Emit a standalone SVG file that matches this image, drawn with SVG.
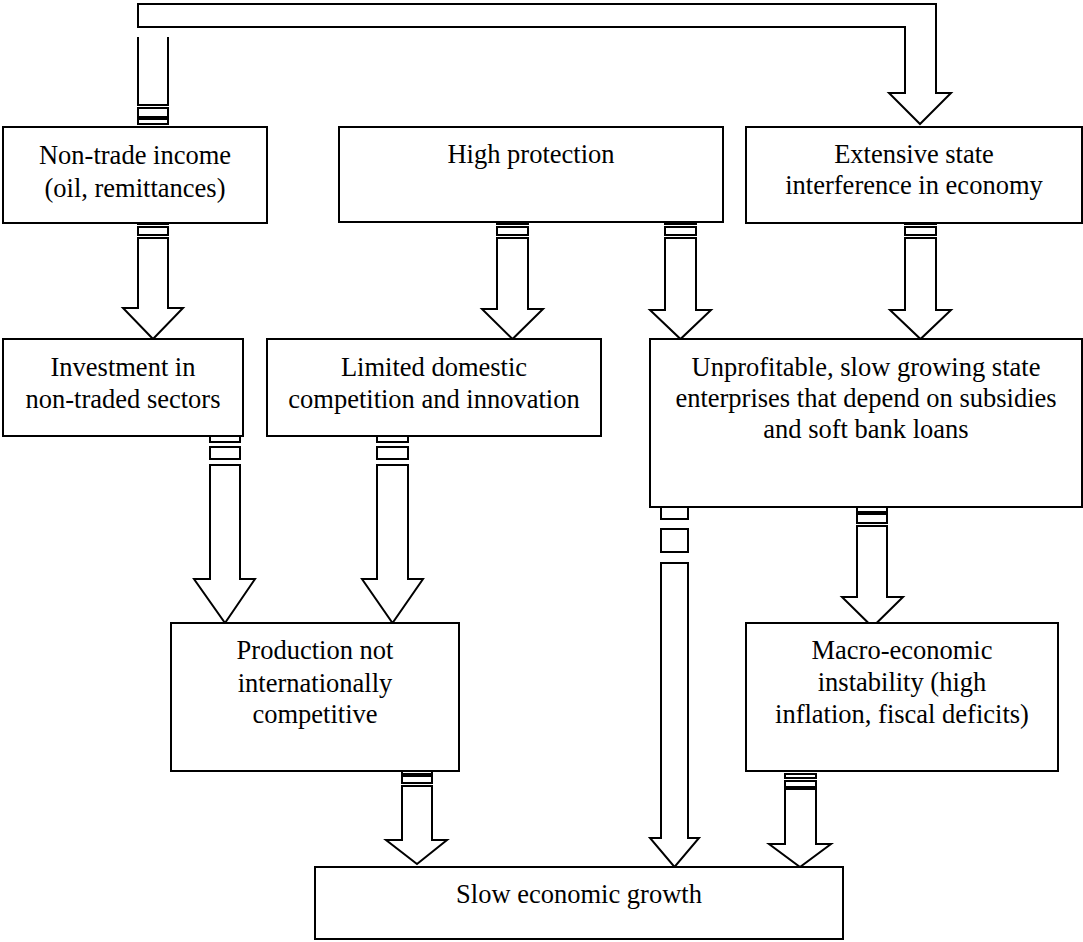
<svg xmlns="http://www.w3.org/2000/svg" width="1083" height="942" viewBox="0 0 1083 942">
<style>
.box{fill:#fff;stroke:#000;stroke-width:2}
.ar{fill:#fff;stroke:#000;stroke-width:2;stroke-linejoin:miter}
.st{fill:#fff;stroke:#000;stroke-width:2}
text{font-family:"Liberation Serif","Times New Roman",serif;font-size:26.5px;fill:#000;text-anchor:middle}
</style>
<rect width="1083" height="942" fill="#fff"/>
<g id="connectors">
  <path class="ar" d="M138 4 L936 4 L936 93 L951 93 L920 124 L889 93 L905 93 L905 27 L138 27 Z"/>
  <path class="ar" d="M138 37 L138 105 L168 105 L168 37" fill="none"/>
  <rect class="st" x="138" y="108" width="30" height="9"/>
  <rect class="st" x="138" y="119" width="30" height="5"/>
  <rect class="st" x="138" y="219" width="30" height="5"/>
  <rect class="st" x="138" y="227" width="30" height="8"/>
  <path class="ar" d="M138 238 L138 308 L123 308 L153 339 L183 308 L168 308 L168 238 Z"/>
  <rect class="st" x="497" y="219" width="31" height="5"/>
  <rect class="st" x="497" y="227" width="31" height="8"/>
  <path class="ar" d="M497 238 L497 309 L482 309 L512.5 339 L543 309 L528 309 L528 238 Z"/>
  <rect class="st" x="665" y="219" width="31" height="5"/>
  <rect class="st" x="665" y="227" width="31" height="8"/>
  <path class="ar" d="M665 238 L665 310 L650 310 L680.5 339 L711 310 L696 310 L696 238 Z"/>
  <rect class="st" x="905" y="219" width="31" height="5"/>
  <rect class="st" x="905" y="227" width="31" height="8"/>
  <path class="ar" d="M905 238 L905 310 L890 310 L920.5 339 L951 310 L936 310 L936 238 Z"/>
  <rect class="st" x="210" y="436" width="30" height="6"/>
  <rect class="st" x="210" y="447" width="30" height="12"/>
  <path class="ar" d="M210 465 L210 579 L194 579 L225 623 L255 579 L240 579 L240 465 Z"/>
  <rect class="st" x="377" y="436" width="31" height="6"/>
  <rect class="st" x="377" y="447" width="31" height="12"/>
  <path class="ar" d="M377 465 L377 579 L362 579 L392.5 623 L423 579 L408 579 L408 465 Z"/>
  <rect class="st" x="661" y="507" width="27" height="12"/>
  <rect class="st" x="661" y="529" width="27" height="23"/>
  <path class="ar" d="M661 563 L661 838 L650 838 L674.5 867 L699 838 L688 838 L688 563 Z"/>
  <rect class="st" x="857" y="507" width="30" height="5"/>
  <rect class="st" x="857" y="514" width="30" height="9"/>
  <path class="ar" d="M857 526 L857 597 L842 597 L872.5 627 L903 597 L887 597 L887 526 Z"/>
  <rect class="st" x="402" y="771" width="30" height="3"/>
  <rect class="st" x="402" y="776" width="30" height="7"/>
  <path class="ar" d="M402 786 L402 840 L386 840 L417 864 L447 840 L432 840 L432 786 Z"/>
  <rect class="st" x="785" y="774" width="31" height="4"/>
  <rect class="st" x="785" y="781" width="31" height="6"/>
  <path class="ar" d="M785 789 L785 844 L769 844 L800 867 L831 844 L816 844 L816 789 Z"/>
</g>
<g id="n-nontrade">
  <rect class="box" x="3" y="127" width="264" height="96"/>
  <text x="135" y="164">Non-trade income</text>
  <text x="135" y="197">(oil, remittances)</text>
</g>
<g id="n-highprot">
  <rect class="box" x="339" y="127" width="384" height="95"/>
  <text x="531" y="163">High protection</text>
</g>
<g id="n-extensive">
  <rect class="box" x="746" y="127" width="336" height="96"/>
  <text x="914" y="163">Extensive state</text>
  <text x="914" y="194">interference in economy</text>
</g>
<g id="n-investment">
  <rect class="box" x="3" y="339" width="240" height="97"/>
  <text x="123" y="376">Investment in</text>
  <text x="123" y="408">non-traded sectors</text>
</g>
<g id="n-limited">
  <rect class="box" x="267" y="339" width="334" height="97"/>
  <text x="434" y="376">Limited domestic</text>
  <text x="434" y="408">competition and innovation</text>
</g>
<g id="n-unprofitable">
  <rect class="box" x="650" y="339" width="432" height="168"/>
  <text x="866" y="376">Unprofitable, slow growing state</text>
  <text x="866" y="407">enterprises that depend on subsidies</text>
  <text x="866" y="438">and soft bank loans</text>
</g>
<g id="n-production">
  <rect class="box" x="171" y="623" width="288" height="148"/>
  <text x="315" y="659">Production not</text>
  <text x="315" y="692">internationally</text>
  <text x="315" y="723">competitive</text>
</g>
<g id="n-macro">
  <rect class="box" x="746" y="623" width="312" height="148"/>
  <text x="902" y="659">Macro-economic</text>
  <text x="902" y="691">instability (high</text>
  <text x="902" y="723">inflation, fiscal deficits)</text>
</g>
<g id="n-slow">
  <rect class="box" x="315" y="867" width="528" height="72"/>
  <text x="579" y="903">Slow economic growth</text>
</g>
</svg>
